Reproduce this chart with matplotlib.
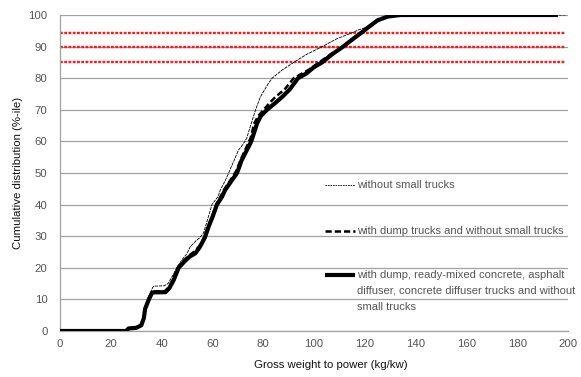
import matplotlib
matplotlib.use("Agg")
import matplotlib.pyplot as plt
from matplotlib.lines import Line2D

# ---------------- data ----------------
thin_x = [0, 26, 27, 30, 32, 33, 33.5, 35, 36.5, 37, 41, 42.5, 44, 46, 48, 50, 51.3, 53.5, 55, 56.5,
          58, 59.8, 62.2, 63.1, 65, 66.4, 68, 70.3, 72, 73.5, 75.3, 77, 78.9, 80.5, 82, 83.5, 87.5, 92,
          97, 103.2, 109, 115.1, 117.6, 122, 125, 129, 134, 199]
thin_y = [0, 0, 0.8, 1, 2, 4.5, 7.5, 11, 13.8, 14.2, 14.3, 15, 17, 20, 22.5, 24.5, 26.7, 28.5, 29.5, 31,
          35, 40, 42.5, 44.6, 47.5, 50, 53, 57.3, 59, 61, 65.7, 70, 74.1, 76.3, 78.3, 80, 82.6, 85,
          87.5, 90, 92.5, 94.4, 95.3, 96.5, 98.3, 99.5, 100, 100]

dump_x = [0, 26, 27, 30, 32, 33, 33.5, 35, 36.3, 41.3, 43, 44.5, 46.5, 49, 51, 53, 55, 57, 58.5, 60,
          61.5, 63.5, 65, 67.3, 69.3, 71.3, 73.3, 75, 76.5, 78, 80.2, 82.5, 85, 88.5, 92, 97.8, 102,
          106.5, 111.3, 115, 119, 122, 125, 129, 134, 196]
dump_y = [0, 0, 0.8, 1, 1.9, 4, 7, 10.5, 12.5, 12.6, 14, 16.5, 20.3, 22.5, 24, 25.2, 27, 30, 33.5, 36.5,
          40, 43, 45.2, 48, 50.5, 54.5, 58, 61, 65.7, 68, 70, 72.2, 74.2, 76.5, 80, 82.6, 85,
          87.5, 90, 92.3, 94.6, 96.5, 98.3, 99.5, 100, 100]

all_x = [0, 26, 27, 30, 32, 33, 33.5, 35, 36.3, 41.5, 43, 44.7, 46.7, 49, 51, 53.3, 55, 57, 58.5, 60,
         61.8, 63.8, 65, 67.5, 69.7, 71.5, 73.6, 75.3, 77.6, 79, 81.5, 84.5, 87.5, 90.5, 93.7, 97, 100,
         103.2, 107, 111.5, 115, 119, 122, 125, 129, 134, 196]
all_y = [0, 0, 0.8, 1, 1.8, 4, 7, 10, 12.2, 12.3, 13.5, 16, 20, 22, 23.5, 24.6, 26.5, 29.5, 33, 36,
         40, 42.5, 44.6, 47.5, 50, 54, 57.3, 60, 65.7, 68, 70, 72, 74.1, 76.5, 80, 81.5, 83.5,
         85, 87.5, 90, 92.2, 94.6, 96.5, 98.3, 99.5, 100, 100]

ref_levels = [94.4, 90, 85]
ref_xmax = 199

labels = ["without small trucks",
          "with dump trucks and without small trucks",
          "with dump, ready-mixed concrete, asphalt\ndiffuser, concrete diffuser trucks and without\nsmall trucks"]

xticks = list(range(0, 201, 20))
yticks = list(range(0, 101, 10))

# ---------------- plot ----------------
plt.rcParams['font.family'] = ['Liberation Sans', 'DejaVu Sans']
W, H = 581, 377
fig = plt.figure(figsize=(W / 100, H / 100), dpi=100)
ax = fig.add_axes([60 / W, 1 - 331 / H, 508 / W, 316 / H])

txt_col = '#555555'
grid_col = '#a0a0a0'

ax.set_xlim(0, 200)
ax.set_ylim(0, 100)
ax.set_xticks(xticks)
ax.set_yticks(yticks)
ax.tick_params(length=0, labelsize=8.2, colors=txt_col)
ax.tick_params(axis='y', pad=9)
ax.tick_params(axis='x', pad=6)
ax.yaxis.grid(True, color=grid_col, lw=0.9)
ax.set_axisbelow(True)
for s in ['top', 'right']:
    ax.spines[s].set_visible(False)
for s in ['left', 'bottom']:
    ax.spines[s].set_color(grid_col)
    ax.spines[s].set_linewidth(0.9)

for lv in ref_levels:
    ax.plot([0, ref_xmax], [lv, lv], color='#ff1a1a', lw=1.7,
            linestyle=(0, (1.2, 0.6)), zorder=2)

ax.plot(all_x, all_y, color='black', lw=3.0, solid_capstyle='butt', zorder=3)
ax.plot(dump_x, dump_y, color='black', lw=1.8, linestyle=(0, (2.5, 1.2)), zorder=4)
ax.plot(thin_x, thin_y, color='black', lw=0.6, linestyle=(0, (4, 1)), zorder=5)

ax.set_xlabel("Gross weight to power (kg/kw)", fontsize=8.2, color='#111111')
ax.xaxis.set_label_coords((331 - 60) / 508, (331 - 360) / 316)
ax.xaxis.label.set_va('top')
ax.set_ylabel("Cumulative distribution (%-ile)", fontsize=8.2, color='#111111')
ax.yaxis.set_label_coords((23 - 60) / 508, 0.5)
ax.yaxis.label.set_va('bottom')

# legend (manual layout)
styles = [dict(lw=0.6, linestyle=(0, (2, 1))),
          dict(lw=1.8, linestyle=(0, (2.5, 1.2))),
          dict(lw=3.0, solid_capstyle='butt')]
rows = [185, 231, 275]
hx0, hx1, tx = 325, 355, 357
for st, lab, py in zip(styles, labels, rows):
    fig.add_artist(Line2D([hx0 / W, hx1 / W], [1 - py / H, 1 - py / H],
                          color='black', transform=fig.transFigure, **st))
    fig.text(tx / W, 1 - (py - 5.5) / H, lab, fontsize=8.0, color=txt_col,
             va='top', ha='left', linespacing=1.75)

fig.savefig("out.png", dpi=100)
